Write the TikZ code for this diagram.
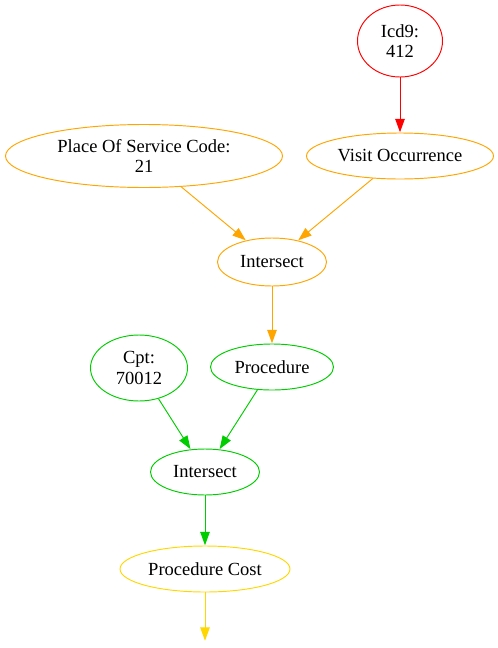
\documentclass[tikz,border=0pt]{standalone}
\usepackage{fontspec}
\setmainfont{Liberation Serif}
\usetikzlibrary{shapes.geometric,arrows.meta}
\definecolor{gvorange}{RGB}{255,165,0}
\definecolor{gvgreen}{RGB}{0,205,0}
\definecolor{gvgold}{RGB}{255,215,0}
\tikzset{
  gv/.style={ellipse, draw, line width=0.95pt, inner sep=0pt, align=center,
    font=\fontsize{18.5}{20.7}\selectfont},
  gvedge/.style={line width=0.95pt, -{Triangle[length=13.3pt,width=9.5pt]}, shorten >=0.3pt},
}
\begin{document}
\begin{tikzpicture}[x=1pt,y=-1pt]
\useasboundingbox (0,0) rectangle (498,648);
\node[gv, draw=red, minimum width=85pt, minimum height=72pt] (icd) at (400,41) {Icd9:\\412};
\node[gv, draw=gvorange, minimum width=187pt, minimum height=46pt] (visit) at (400,156) {Visit Occurrence};
\node[gv, draw=gvorange, minimum width=277pt, minimum height=63pt] (pos) at (144,156) {Place Of Service Code:\\21};
\node[gv, draw=gvorange, minimum width=109pt, minimum height=48pt] (int1) at (272,262) {Intersect};
\node[gv, draw=gvgreen, minimum width=123pt, minimum height=46pt] (proc) at (272,367) {Procedure};
\node[gv, draw=gvgreen, minimum width=97pt, minimum height=66pt] (cpt) at (139,368) {Cpt:\\70012};
\node[gv, draw=gvgreen, minimum width=109pt, minimum height=46pt] (int2) at (205,472) {Intersect};
\node[gv, draw=gvgold, minimum width=170pt, minimum height=46pt] (cost) at (205,569) {Procedure Cost};
\coordinate (end) at (205,641);
\draw[gvedge, red] (icd) -- (visit);
\draw[gvedge, gvorange] (pos) -- (int1);
\draw[gvedge, gvorange] (visit) -- (int1);
\draw[gvedge, gvorange] (int1) -- (proc);
\draw[gvedge, gvgreen] (cpt) -- (int2);
\draw[gvedge, gvgreen] (proc) -- (int2);
\draw[gvedge, gvgreen] (int2) -- (cost);
\draw[gvedge, gvgold] (cost) -- (end);
\end{tikzpicture}
\end{document}
